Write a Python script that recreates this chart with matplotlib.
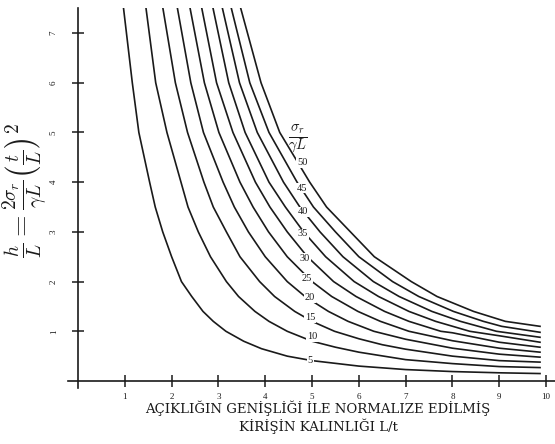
import numpy as np
import matplotlib.pyplot as plt

# curve parameter sigma_r / (gamma L)
ratios = [5, 10, 15, 20, 25, 30, 35, 40, 45, 50]

# points, one (x, y) list per curve
curve_x = [
    [0.97, 1.16, 1.30, 1.53, 1.65, 1.81, 2.00, 2.21, 2.43, 2.67, 2.89, 3.16, 3.54, 3.92, 4.47, 5.00, 6.0, 7.0, 8.0, 9.0, 9.87],
    [1.45, 1.66, 1.90, 2.20, 2.35, 2.57, 2.83, 3.17, 3.43, 3.78, 4.08, 4.47, 5.00, 5.50, 6.0, 7.0, 8.0, 9.0, 9.87],
    [1.81, 2.08, 2.34, 2.69, 2.89, 3.17, 3.46, 3.88, 4.20, 4.63, 5.00, 5.48, 6.0, 6.5, 7.0, 8.0, 9.0, 9.87],
    [2.12, 2.41, 2.68, 3.10, 3.34, 3.64, 4.00, 4.47, 4.85, 5.35, 5.77, 6.32, 7.0, 8.0, 9.0, 9.87],
    [2.39, 2.70, 3.01, 3.46, 3.74, 4.07, 4.47, 5.00, 5.42, 5.98, 6.46, 7.07, 8.0, 9.0, 9.87],
    [2.64, 2.96, 3.31, 3.79, 4.10, 4.47, 4.90, 5.46, 5.94, 6.55, 7.07, 7.75, 8.0, 9.0, 9.87],
    [2.88, 3.22, 3.57, 4.08, 4.43, 4.82, 5.29, 5.90, 6.42, 7.07, 7.64, 8.37, 9.0, 9.87],
    [3.08, 3.45, 3.83, 4.39, 4.74, 5.17, 5.66, 6.31, 6.86, 7.56, 8.17, 8.94, 9.87],
    [3.27, 3.67, 4.08, 4.68, 5.03, 5.50, 6.00, 6.72, 7.28, 8.02, 8.66, 9.05, 9.87],
    [3.47, 3.91, 4.31, 4.95, 5.31, 5.82, 6.33, 7.12, 7.67, 8.45, 9.13, 9.87],
]
curve_y = [
    [7.52, 6.0, 5.0, 4.0, 3.5, 3.0, 2.5, 2.0, 1.7, 1.4, 1.2, 1.0, 0.8, 0.65, 0.5, 0.41, 0.30, 0.23, 0.19, 0.165, 0.15],
    [7.52, 6.0, 5.0, 4.0, 3.5, 3.0, 2.5, 2.0, 1.7, 1.4, 1.2, 1.0, 0.8, 0.68, 0.58, 0.43, 0.35, 0.29, 0.27],
    [7.52, 6.0, 5.0, 4.0, 3.5, 3.0, 2.5, 2.0, 1.7, 1.4, 1.2, 1.0, 0.85, 0.73, 0.64, 0.50, 0.41, 0.38],
    [7.52, 6.0, 5.0, 4.0, 3.5, 3.0, 2.5, 2.0, 1.7, 1.4, 1.2, 1.0, 0.84, 0.66, 0.54, 0.48],
    [7.52, 6.0, 5.0, 4.0, 3.5, 3.0, 2.5, 2.0, 1.7, 1.4, 1.2, 1.0, 0.81, 0.66, 0.58],
    [7.52, 6.0, 5.0, 4.0, 3.5, 3.0, 2.5, 2.0, 1.7, 1.4, 1.2, 1.0, 0.97, 0.78, 0.68],
    [7.52, 6.0, 5.0, 4.0, 3.5, 3.0, 2.5, 2.0, 1.7, 1.4, 1.2, 1.0, 0.91, 0.78],
    [7.52, 6.0, 5.0, 4.0, 3.5, 3.0, 2.5, 2.0, 1.7, 1.4, 1.2, 1.0, 0.88],
    [7.52, 6.0, 5.0, 4.0, 3.5, 3.0, 2.5, 2.0, 1.7, 1.4, 1.2, 1.1, 0.98],
    [7.52, 6.0, 5.0, 4.0, 3.5, 3.0, 2.5, 2.0, 1.7, 1.4, 1.2, 1.10],
]

# where the ratio labels sit on the curves
label_x = [4.96, 5.0, 4.96, 4.96, 4.89, 4.85, 4.81, 4.81, 4.79, 4.79]
label_y = [0.42, 0.89, 1.27, 1.67, 2.07, 2.47, 2.96, 3.40, 3.88, 4.39]

xticks = [1, 2, 3, 4, 5, 6, 7, 8, 9, 10]
yticks = [1, 2, 3, 4, 5, 6, 7]

ink = "#1a1a1a"
plt.rcParams["mathtext.fontset"] = "cm"

fig = plt.figure(figsize=(5.55, 4.44), dpi=100)
ax = fig.add_axes([0.1225, 0.1261, 0.8775, 0.856])

for xs, ys in zip(curve_x, curve_y):
    ax.plot(xs, ys, color=ink, lw=1.2, solid_joinstyle="round")

for k, lx, ly in zip(ratios, label_x, label_y):
    ax.text(lx, ly, str(k), fontsize=7.5, family="Liberation Serif", color=ink,
            ha="center", va="center",
            bbox=dict(facecolor="white", edgecolor="none", pad=0.6))

ax.text(4.7, 4.88, r"$\frac{\sigma_r}{\gamma L}$", fontsize=15, color=ink,
        ha="center", va="center")

ax.set_xlim(-0.214, 10.19)
ax.set_ylim(-0.141, 7.505)

# spines crossing at the origin, like the hand-drawn axes
for side in ["top", "right"]:
    ax.spines[side].set_visible(False)
ax.spines["left"].set_position(("data", 0))
ax.spines["bottom"].set_position(("data", 0))
ax.spines["left"].set_linewidth(1.2)
ax.spines["bottom"].set_linewidth(1.2)
ax.spines["left"].set_color(ink)
ax.spines["bottom"].set_color(ink)

ax.set_xticks(xticks)
ax.set_yticks(yticks)
ax.set_xticklabels([str(t) for t in xticks], family="Liberation Serif")
ax.set_yticklabels([str(t) for t in yticks], family="Liberation Serif", rotation=90,
                   va="center")
ax.tick_params(direction="inout", length=9, width=1.1, colors=ink, labelsize=6.5)
ax.tick_params(axis="y", pad=10)
ax.tick_params(axis="x", pad=4)

fig.text(0.045, 0.572, r"$\frac{h}{L} = \frac{2\sigma_r}{\gamma L}\left(\frac{t}{L}\right)^2$",
         rotation=90, fontsize=20, color=ink, ha="center", va="center")

fig.text(0.573, 0.060, "AÇIKLIĞIN GENİŞLİĞİ İLE NORMALIZE EDİLMİŞ\nKİRİŞİN KALINLIĞI L/t",
         fontsize=9.5, family="DejaVu Serif", color=ink, ha="center", va="center",
         linespacing=1.25)

fig.savefig("out.png", dpi=100)
